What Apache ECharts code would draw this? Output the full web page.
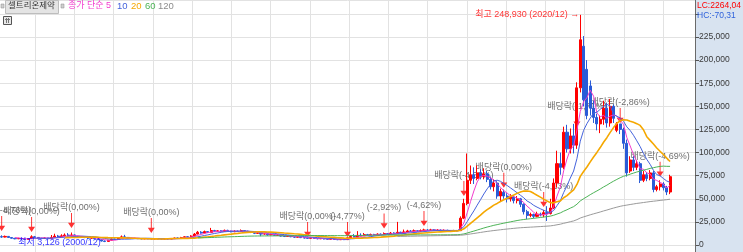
<!DOCTYPE html>
<html><head><meta charset="utf-8">
<script src="https://cdn.jsdelivr.net/npm/echarts/dist/echarts.min.js"></script>
<style>html,body{margin:0;padding:0;background:#fff}#c{width:743px;height:252px}</style>
</head><body><div id="c"></div>
<script>
// ---- data ----
const opens = [9000,8600,9300,8100,7300,6700,7100,6400,6000,6800,8900,8200,7400,7000,7600,6800,8200,9600,8700,9900,
10800,9800,10900,9500,8600,8900,8000,7400,7700,6900,5800,4300,3900,5200,6400,6000,7600,8800,8200,7400,
7000,7200,6800,6600,6900,6700,6500,6800,6600,6400,6700,6500,6900,7600,7300,8100,8900,8600,9700,11800,
13800,12900,14500,13600,15600,14800,15300,14600,15800,15100,14300,15000,14600,15600,14900,14200,13600,12600,13200,11800,
12200,11000,11500,10400,10800,9700,9200,9800,9000,8400,8800,8000,7500,7200,7700,7100,6700,7000,6500,6200,
6600,6000,5700,6100,5800,7800,9200,8600,10500,9900,11200,10600,11400,10900,11800,11300,12400,11900,12900,12300,
13800,12800,14100,15200,14600,15400,14900,15600,16300,15700,16400,15800,16200,15500,15900,15300,15000,15600,15500,29000,
45000,70000,76000,72000,78000,74000,77000,71000,63000,67000,53000,57000,53000,50000,52000,48000,50000,44000,36000,32000,
33000,31000,33500,32500,35000,34000,40000,67000,88000,84000,122000,104000,118000,108000,170000,215000,190000,172000,148000,138000,
131000,136000,148000,132000,150000,124000,131000,125000,110000,80000,92000,84000,88000,70000,76000,72000,78000,60000,63000,66000,
62000,57300];
const closes = [8600,9300,8100,7300,6700,7100,6400,6000,6800,8900,8200,7400,7000,7600,6800,8200,9600,8700,9900,10800,
9800,10900,9500,8600,8900,8000,7400,7700,6900,5800,4300,3900,5200,6400,6000,7600,8800,8200,7400,7000,
7200,6800,6600,6900,6700,6500,6800,6600,6400,6700,6500,6900,7600,7300,8100,8900,8600,9700,11800,13800,
12900,14500,13600,15600,14800,15300,14600,15800,15100,14300,15000,14600,15600,14900,14200,13600,12600,13200,11800,12200,
11000,11500,10400,10800,9700,9200,9800,9000,8400,8800,8000,7500,7200,7700,7100,6700,7000,6500,6200,6600,
6000,5700,6100,5800,7800,9200,8600,10500,9900,11200,10600,11400,10900,11800,11300,12400,11900,12900,12300,13800,
12800,14100,15200,14600,15400,14900,15600,16300,15700,16400,15800,16200,15500,15900,15300,15000,15600,15200,29000,45000,
70000,76000,72000,78000,74000,77000,71000,63000,67000,53000,58000,53000,50000,52000,48000,50000,44000,36000,32000,33000,
31000,33500,32500,35000,34000,40000,67000,88000,84000,122000,104000,118000,108000,170000,222000,157000,140000,148000,138000,131000,
136000,148000,132000,150000,137000,131000,125000,110000,78000,92000,84000,88000,70000,76000,72000,78000,60000,63000,66000,62000,
57300,73900];
const lows = [7800,8200,7700,6900,6200,6400,6000,5500,5800,6600,7600,6900,6400,6700,6300,6600,7800,8100,8400,9300,
9200,9400,9000,8000,8100,7500,6900,7000,6300,5300,3800,3126,3700,5000,5600,5800,7300,7700,7000,6600,
6700,6400,6300,6400,6300,6200,6300,6200,6100,6200,6200,6300,6800,7000,7200,7900,8200,8500,9500,11500,
12200,12600,13000,13400,14200,14300,14000,14300,14600,13700,13900,14100,14300,14300,13500,12900,11800,12100,9500,11200,
10000,10500,9800,9900,9100,8600,8900,8400,7800,8100,7500,7000,6600,6900,6700,6200,6400,6000,5800,5900,
5600,5300,5400,5300,5700,7500,8100,8400,9400,9600,10100,10200,10400,10600,10800,11000,11400,11600,11800,12000,
12200,12500,13800,14000,14200,14300,14500,15100,15100,15300,15200,15300,15000,15100,14800,14500,14700,14700,15200,28000,
43000,66000,66000,70000,71000,71000,68000,60000,58000,50000,47000,50000,46000,47000,45000,45000,41000,33000,28000,30000,
29000,30000,31000,30000,26000,33000,39000,62000,76000,82000,100000,99000,99000,104000,165000,150000,136000,140000,132000,124000,
121000,130000,127000,128000,132000,122000,120000,104000,74000,78000,80000,81000,67000,68000,69000,70000,57000,58000,59000,59000,
54000,55000];
const highs = [10500,10200,9600,8400,7600,7800,7400,6800,7300,10500,9800,8600,7700,8300,7900,10800,12200,10900,11600,12500,
12900,13500,11400,9900,9700,9300,8300,8400,7900,7100,6100,4800,5700,7100,7000,8600,10300,11000,8600,7700,
7700,7500,7100,7300,7200,7000,7200,7000,6900,7100,7000,7300,8000,8100,8800,9400,9300,10600,13000,15200,
15000,15600,15100,18500,16400,16200,16100,16700,16500,15600,15900,15700,16800,16200,15400,14600,14100,14000,13600,13000,
12600,12200,11800,11400,11000,10100,10300,10100,9300,9200,9000,8200,7800,8100,7900,7300,7400,7200,6800,7000,
6800,6200,6400,6300,8600,10400,11800,15000,12600,13000,12000,12300,12100,12600,12400,13600,13000,14100,13800,25000,
14400,16700,16400,16200,16800,16100,16900,17600,17200,17500,17000,17100,16800,16800,16500,16000,16400,16300,31000,50000,
99000,86000,84000,86000,82000,83000,80000,74000,71000,69000,61000,60000,56000,55000,54000,53000,51000,45000,38000,35000,
34000,36000,35000,38000,42000,50000,72000,102000,100000,128000,130000,126000,131000,176000,248930,226000,200000,178000,156000,142000,
140000,156000,154000,158000,152000,133000,131000,127000,114000,96000,96000,92000,90000,80000,79000,81000,80000,65000,70000,68000,
64000,76000];
const slotCount = 209;                       // candle slots on the time axis (last ones empty)
const maPeriods = [5, 10, 20, 60, 120];
const annIdx   = [0, 9, 21, 45, 92, 104, 115, 127, 139, 151, 163, 173, 186, 198];
const annPrice = [15200, 14100, 18400, 13000, 8700, 8700, 17900, 20600, 53000, 62000, 41000, 128000, 132000, 73700];
const annText  = ['배당락(-4,76%)','배당락(0,00%)','배당락(0,00%)','배당락(0,00%)','배당락(0,00%)','(-4,77%)','(-2,92%)','(-4,62%)',
                  '배당락(-4,63%)','배당락(0,00%)','배당락(-4,13%)','배당락(-1,71%)','배당락(-2,86%)','배당락(-4,69%)'];
const hiDate = '2020/12', loDate = '2000/12';
const yTicks = [0, 25000, 50000, 75000, 100000, 125000, 150000, 175000, 200000, 225000];
const stockName = '셀트리온제약';
const lcText = 'LC:2264,04', hcText = 'HC:-70,31';

// ---- build ----
const categories = [];
for (let i = 0; i < slotCount; i++) categories.push(String(i + 1));
const candles = opens.map((o, i) => [o, closes[i], lows[i], highs[i]]);
function ma(n) {
  return closes.map((_, i) => {
    if (i < n - 1) return '-';
    let s = 0; for (let k = i - n + 1; k <= i; k++) s += closes[k];
    return +(s / n).toFixed(0);
  });
}
const fmt = v => String(v).replace(/\B(?=(\d{3})+(?!\d))/g, ',');
let hiI = 0, loI = 0;
highs.forEach((h, i) => { if (h > highs[hiI]) hiI = i; });
lows.forEach((l, i) => { if (l < lows[loI]) loI = i; });
const last = closes[closes.length - 1], prev = closes[closes.length - 2];
const pct = ((last / prev - 1) * 100).toFixed(2).replace('.', ',') + '%';

const FONT = "'Liberation Sans','Noto Sans CJK KR',sans-serif";
const maColors = ['#f23ccd', '#4563dc', '#f5a800', '#4cb356', '#9a9a9a'];
const maWidths = [1, 1, 1.6, 1, 1];
const GRID_LINE = '#e2e2e2';

const chart = echarts.init(document.getElementById('c'), null, {renderer: 'canvas'});
const series = [
  {
    type: 'candlestick', xAxisIndex: 0, yAxisIndex: 0, z: 3,
    data: candles, barWidth: 2.6,
    itemStyle: {color: '#ff0000', color0: '#2a5bd7', borderColor: '#ff0000', borderColor0: '#2a5bd7', borderWidth: 1},
    markLine: {
      silent: true, symbol: ['none', 'none'], animation: false,
      lineStyle: {opacity: 0},
      data: [
        {yAxis: last, label: {show: true, position: 'end', distance: 2, formatter: fmt(last),
          backgroundColor: '#ff0000', color: '#ffffff', fontSize: 9, fontFamily: FONT, padding: [1, 17, 0, 3]}},
        {yAxis: last, label: {show: true, position: 'end', distance: 2, formatter: pct, offset: [0, 9],
          color: '#ff0000', fontSize: 9, fontFamily: FONT, padding: [0, 0, 0, 3]}}
      ]
    }
  },
  {
    type: 'scatter', z: 1, xAxisIndex: 0, yAxisIndex: 0,
    data: annIdx.map((x, i) => [x, annPrice[i]]),
    symbol: 'path://M4.3,0 L5.7,0 L5.7,13 L10,13 L5,20 L0,13 L4.3,13 Z',
    symbolSize: [7, 15], symbolOffset: [0, -7.5],
    itemStyle: {color: '#ff0000'},
    label: {show: true, position: 'top', distance: 1, color: '#4a4a4a', fontSize: 9, fontFamily: FONT,
      formatter: p => annText[p.dataIndex]},
    silent: true
  },
  {
    type: 'scatter', z: 5, symbolSize: 0, silent: true,
    data: [[hiI, highs[hiI]]],
    label: {show: true, position: 'left', distance: 1, color: '#ff0000', fontSize: 9, fontFamily: FONT,
      formatter: '최고 ' + fmt(highs[hiI]) + ' (' + hiDate + ') →'}
  },
  {
    type: 'scatter', z: 5, symbolSize: 0, silent: true,
    data: [[loI, lows[loI]]],
    label: {show: true, position: 'left', distance: 4, color: '#0000ff', fontSize: 9, fontFamily: FONT,
      formatter: '최저 ' + fmt(lows[loI]) + ' (' + loDate + ')'}
  }
];
maPeriods.forEach((n, k) => series.push({
  type: 'line', z: 4, data: ma(n), showSymbol: false, symbol: 'none', silent: true,
  lineStyle: {color: maColors[k], width: maWidths[k]}
}));

const vLineStep = 39.25, vLineStart = 35, plotRight = 695;
chart.setOption({
  animation: false,
  backgroundColor: '#ffffff',
  grid: [
    {left: 0, right: 743 - plotRight, top: 0, bottom: 7},
    {left: vLineStart, right: 743 - plotRight, top: 0, bottom: 0}
  ],
  xAxis: [
    {type: 'category', data: categories, gridIndex: 0, boundaryGap: true,
      axisLine: {show: false}, axisTick: {show: false}, axisLabel: {show: false}, splitLine: {show: false}},
    {type: 'value', gridIndex: 1, min: 0, max: (plotRight - vLineStart) / vLineStep, interval: 1,
      axisLine: {show: false}, axisTick: {show: false}, axisLabel: {show: false},
      splitLine: {show: true, lineStyle: {color: GRID_LINE, width: 1}}}
  ],
  yAxis: [
    {type: 'value', gridIndex: 0, position: 'right', min: 0, max: 265000, interval: 25000,
      axisLine: {show: true, lineStyle: {color: '#6a6a6a'}},
      axisTick: {show: true, length: 4, lineStyle: {color: '#555'}},
      axisLabel: {show: true, margin: 4, color: '#3a3a3a', fontSize: 8.5, fontFamily: FONT, showMaxLabel: false,
        formatter: v => yTicks.indexOf(v) >= 0 ? fmt(v) : ''},
      splitLine: {show: true, lineStyle: {color: GRID_LINE, width: 1}}},
    {type: 'value', gridIndex: 1, show: false, min: 0, max: 1, splitLine: {show: false}}
  ],
  graphic: [
    {type: 'rect', z: -10, shape: {x: plotRight, y: 0, width: 743 - plotRight, height: 252}, style: {fill: '#d8e3f0'}, silent: true},
    {type: 'line', z: 10, shape: {x1: plotRight + 0.5, y1: 245, x2: plotRight + 0.5, y2: 252}, style: {stroke: '#6a6a6a', lineWidth: 1}},
    {type: 'text', z: 10, left: 697, top: 1, style: {text: lcText, fill: '#ff0000', font: '8.5px ' + FONT}},
    {type: 'text', z: 10, left: 697, top: 11, style: {text: hcText, fill: '#2f62db', font: '8.5px ' + FONT}},
    {type: 'rect', z: 10, shape: {x: 1, y: 4, width: 3, height: 4}, style: {fill: '#cfcfcf', stroke: '#888', lineWidth: 0.5}},
    {type: 'rect', z: 10, shape: {x: 5.5, y: 0.5, width: 53, height: 13}, style: {fill: '#e4e4e4', stroke: '#bdbdbd', lineWidth: 1}},
    {type: 'text', z: 11, left: 8, top: 1.5, style: {text: stockName, fill: '#333', font: '8.5px ' + FONT}},
    {type: 'rect', z: 10, shape: {x: 61, y: 4, width: 3, height: 4}, style: {fill: '#cfcfcf', stroke: '#888', lineWidth: 0.5}},
    {type: 'text', z: 10, left: 68, top: 1.5, style: {text: '종가 단순 ' + maPeriods[0], fill: maColors[0], font: '9px ' + FONT}},
    {type: 'text', z: 10, left: 117, top: 1.5, style: {text: String(maPeriods[1]), fill: maColors[1], font: '9.5px ' + FONT}},
    {type: 'text', z: 10, left: 131, top: 1.5, style: {text: String(maPeriods[2]), fill: maColors[2], font: '9.5px ' + FONT}},
    {type: 'text', z: 10, left: 145, top: 1.5, style: {text: String(maPeriods[3]), fill: maColors[3], font: '9.5px ' + FONT}},
    {type: 'text', z: 10, left: 158, top: 1.5, style: {text: String(maPeriods[4]), fill: '#8c8c8c', font: '9.5px ' + FONT}},
    {type: 'rect', z: 10, shape: {x: 3.5, y: 16.5, width: 8, height: 8}, style: {fill: '#e8e8e8', stroke: '#555', lineWidth: 1}},
    {type: 'line', z: 11, shape: {x1: 5, y1: 19.5, x2: 10, y2: 19.5}, style: {stroke: '#777', lineWidth: 1}},
    {type: 'line', z: 11, shape: {x1: 6.5, y1: 18, x2: 6.5, y2: 23}, style: {stroke: '#777', lineWidth: 1}},
    {type: 'line', z: 11, shape: {x1: 8.5, y1: 18, x2: 8.5, y2: 23}, style: {stroke: '#777', lineWidth: 1}}
  ],
  series: series
});
</script>
</body></html>
